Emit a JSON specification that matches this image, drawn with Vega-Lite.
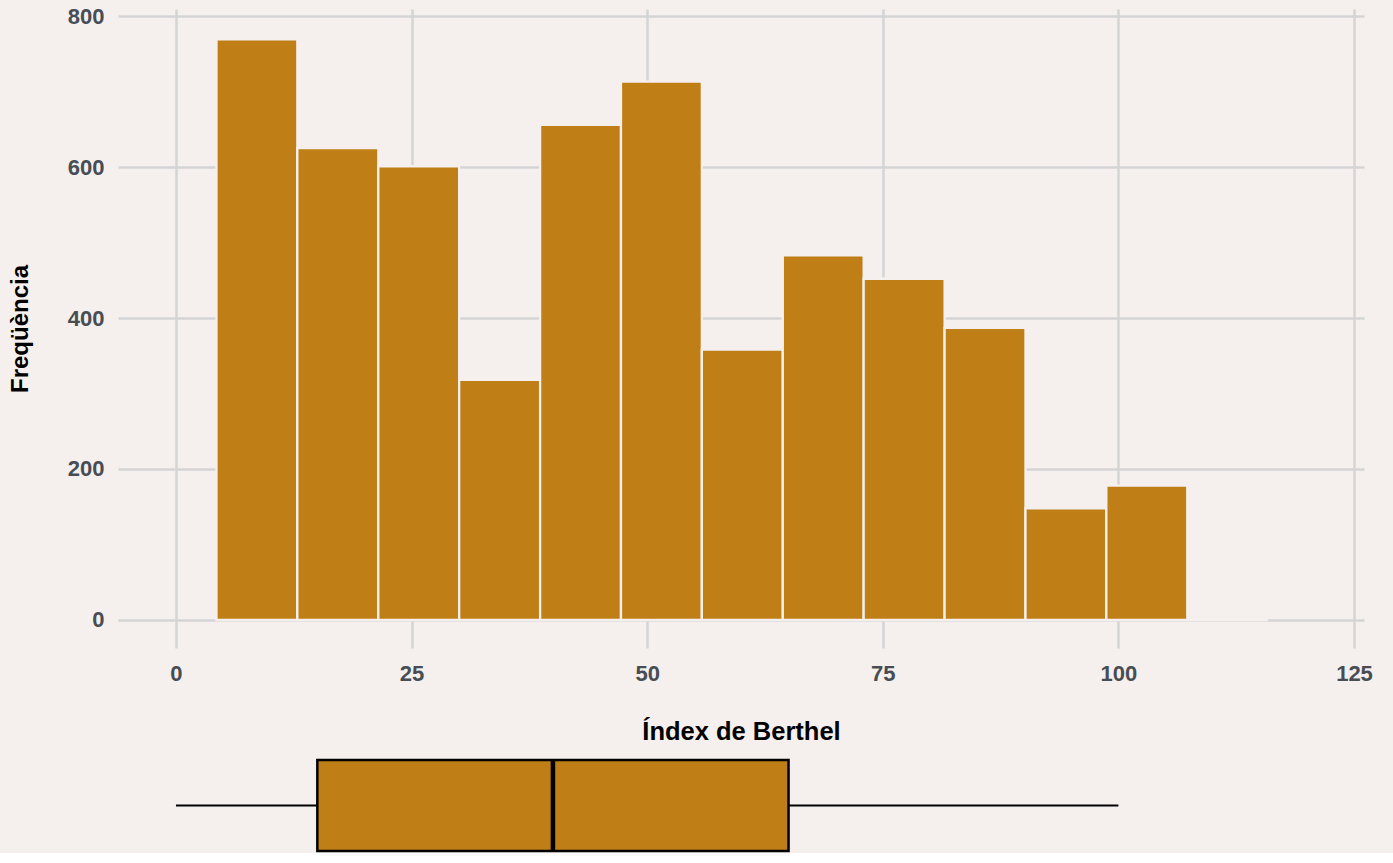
{
  "$schema": "https://vega.github.io/schema/vega-lite/v6.json",
  "background": "#f5f0ee",
  "padding": {"left": 8, "top": 5, "right": 29, "bottom": 0},
  "spacing": 112,
  "bounds": "flush",
  "config": {
    "view": {"stroke": null},
    "font": "Liberation Sans",
    "axis": {
      "domain": false,
      "ticks": false,
      "labelFont": "Liberation Sans",
      "labelFontWeight": "bold",
      "labelFontSize": 22,
      "labelColor": "#474d53",
      "titleFont": "Liberation Sans",
      "titleFontWeight": "bold",
      "titleFontSize": 24,
      "titleColor": "#000000",
      "gridColor": "#d4d4d4",
      "gridWidth": 2.5
    }
  },
  "datasets": {
    "bins": [
      {"bin_start": 4.30, "bin_end": 12.88, "count": 769},
      {"bin_start": 12.88, "bin_end": 21.47, "count": 625},
      {"bin_start": 21.47, "bin_end": 30.05, "count": 601},
      {"bin_start": 30.05, "bin_end": 38.64, "count": 318},
      {"bin_start": 38.64, "bin_end": 47.22, "count": 656},
      {"bin_start": 47.22, "bin_end": 55.80, "count": 713},
      {"bin_start": 55.80, "bin_end": 64.39, "count": 358},
      {"bin_start": 64.39, "bin_end": 72.97, "count": 483},
      {"bin_start": 72.97, "bin_end": 81.56, "count": 452},
      {"bin_start": 81.56, "bin_end": 90.14, "count": 387},
      {"bin_start": 90.14, "bin_end": 98.72, "count": 148},
      {"bin_start": 98.72, "bin_end": 107.31, "count": 178},
      {"bin_start": 107.31, "bin_end": 115.89, "count": 0}
    ],
    "box": [
      {"var": "Índex de Berthel", "min": 0, "q1": 15, "median": 40, "q3": 65, "max": 100}
    ]
  },
  "vconcat": [
    {
      "width": 1246,
      "height": 639,
      "data": {"name": "bins"},
      "mark": {"type": "rect", "fill": "#bf7e16", "stroke": "#f5f0ee", "strokeWidth": 2.3},
      "encoding": {
        "x": {
          "field": "bin_start",
          "type": "quantitative",
          "scale": {"domain": [-6.15, 126.06], "nice": false, "zero": false},
          "axis": {"values": [0, 25, 50, 75, 100, 125], "title": "Índex de Berthel", "titleFontSize": 25.5, "labelPadding": 15, "titlePadding": 35, "labelFlush": false}
        },
        "x2": {"field": "bin_end"},
        "y": {
          "field": "count",
          "type": "quantitative",
          "scale": {"domain": [-37.1, 809.3], "nice": false, "zero": false},
          "axis": {"values": [0, 200, 400, 600, 800], "title": "Freqüència", "labelPadding": 14, "titlePadding": 35}
        },
        "y2": {"datum": 0}
      }
    },
    {
      "width": 1246,
      "height": 91,
      "data": {"name": "box"},
      "encoding": {
        "y": {"field": "var", "type": "nominal", "axis": null, "scale": {"paddingInner": 0, "paddingOuter": 0}}
      },
      "layer": [
        {
          "mark": {"type": "rule", "color": "#000000", "strokeWidth": 2.2, "opacity": 1},
          "encoding": {
            "x": {"field": "min", "type": "quantitative", "scale": {"domain": [-6.15, 126.06], "nice": false, "zero": false}, "axis": null},
            "x2": {"field": "max"}
          }
        },
        {
          "mark": {"type": "bar", "fill": "#bf7e16", "stroke": "#000000", "strokeWidth": 2.5, "opacity": 1},
          "encoding": {
            "x": {"field": "q1", "type": "quantitative", "scale": {"domain": [-6.15, 126.06], "nice": false, "zero": false}, "axis": null},
            "x2": {"field": "q3"}
          }
        },
        {
          "mark": {"type": "tick", "color": "#000000", "size": 91, "thickness": 4.5, "opacity": 1},
          "encoding": {
            "x": {"field": "median", "type": "quantitative", "scale": {"domain": [-6.15, 126.06], "nice": false, "zero": false}, "axis": null}
          }
        }
      ]
    }
  ]
}
